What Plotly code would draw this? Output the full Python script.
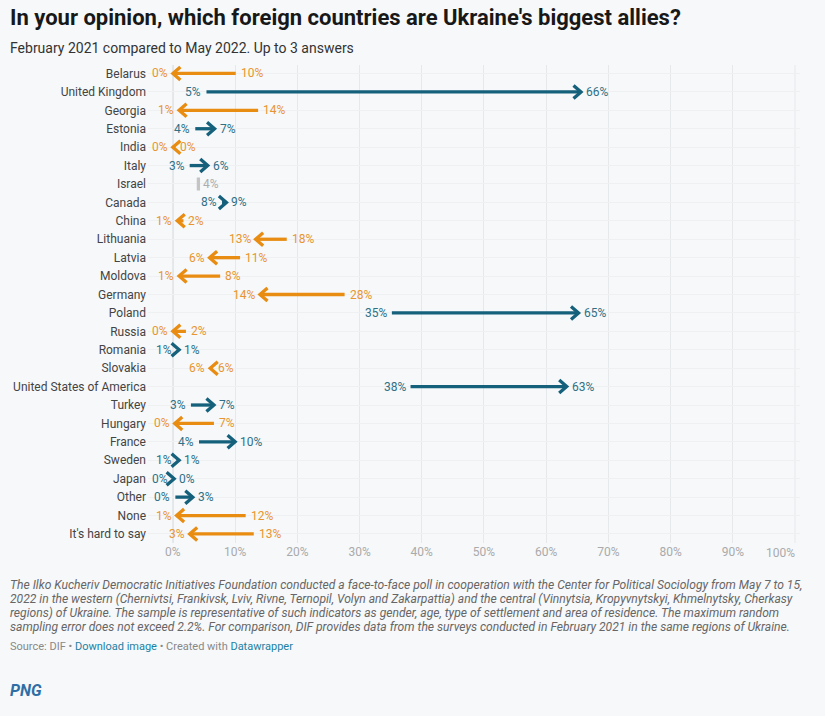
# Ukraine allies poll, arrow plot Feb 2021 -> May 2022
import plotly.graph_objects as go

countries = ["Belarus", "United Kingdom", "Georgia", "Estonia", "India", "Italy", "Israel",
             "Canada", "China", "Lithuania", "Latvia", "Moldova", "Germany", "Poland",
             "Russia", "Romania", "Slovakia", "United States of America", "Turkey",
             "Hungary", "France", "Sweden", "Japan", "Other", "None", "It's hard to say"]
feb_2021 = [10.1, 5.4, 13.7, 3.6, 0.4, 2.7, 4.1, 7.9, 1.7, 18.3, 10.8, 7.6, 27.6, 35.2,
            2.1, 0.7, 6.4, 38.2, 2.9, 6.6, 4.2, 0.6, 0.0, 0.4, 11.7, 13.0]
may_2022 = [0.0, 65.6, 1.0, 6.7, 0.0, 5.6, 4.1, 8.6, 0.7, 13.3, 5.9, 1.0, 14.0, 65.2,
            0.0, 1.0, 6.0, 63.3, 6.6, 0.3, 10.0, 1.0, 0.2, 3.2, 0.6, 2.7]
x_ticks = [0, 10, 20, 30, 40, 50, 60, 70, 80, 90]

BLUE = "#15607a"
ORANGE = "#e98c12"
BLUE_TEXT = "#2f7086"
ORANGE_TEXT = "#e89530"
GREY = "#c4c4c4"
BG = "#f6f8fa"
W, H = 825, 716
# the axis runs a little past 0 and 100 so row lines and arrow heads are not cut
X_MIN, X_MAX = -4, 100.8
PX_PER_PCT = 6.225
ZERO_PX = 172.5
LEFT = ZERO_PX + X_MIN * PX_PER_PCT
RIGHT = ZERO_PX + X_MAX * PX_PER_PCT
TOP, BOTTOM = 65, 543
TEXT_X = 8  # annotation boxes carry a little padding

# arrow head size, px converted to data units
head_x = 7.5 / PX_PER_PCT
head_y = 6.5 / 18.42


def px(x):
    return (x - LEFT) / (RIGHT - LEFT)


def py(y):
    return (BOTTOM - y) / (BOTTOM - TOP)


fig = go.Figure()
annotations = []

for i, name in enumerate(countries):
    a, b = feb_2021[i], may_2022[i]
    if a == b:
        color, text_color = GREY, "#adadad"
        xs, ys = [b, b], [i - head_y, i + head_y]
    else:
        color, text_color = (BLUE, BLUE_TEXT) if b > a else (ORANGE, ORANGE_TEXT)
        d = -head_x if b > a else head_x
        xs = [a, b, None, b + d, b, b + d]
        ys = [i, i, None, i - head_y, i, i + head_y]
    fig.add_trace(go.Scatter(x=xs, y=ys, mode="lines", line=dict(color=color, width=3.3),
                             name=name, showlegend=False))
    labels = [(b, "left", 3)] if a == b else [(a, "right" if b > a else "left", -3 if b > a else 3),
                                              (b, "left" if b > a else "right", 3 if b > a else -3)]
    for val, anchor, shift in labels:
        annotations.append(dict(x=val, y=i, text=f"{round(val)}%", showarrow=False, xanchor=anchor,
                                yanchor="middle", xshift=shift, font=dict(size=12, color=text_color)))

# last tick label sits inside the plot edge
annotations.append(dict(x=100, y=0, yref="paper", text="100%", showarrow=False, xanchor="right",
                        yanchor="middle", yshift=-10, xshift=2, font=dict(size=12, color="#aaaaaa")))

annotations.append(dict(x=px(TEXT_X), y=py(48), xref="paper", yref="paper", showarrow=False, xanchor="left",
                        yanchor="middle", text="February 2021 compared to May 2022. Up to 3 answers",
                        font=dict(size=14, color="#333333")))

notes = ["The Ilko Kucheriv Democratic Initiatives Foundation conducted a face-to-face poll in cooperation with the Center for Political Sociology from May 7 to 15,",
         "2022 in the western (Chernivtsi, Frankivsk, Lviv, Rivne, Ternopil, Volyn and Zakarpattia) and the central (Vinnytsia, Kropyvnytskyi, Khmelnytsky, Cherkasy",
         "regions) of Ukraine. The sample is representative of such indicators as gender, age, type of settlement and area of residence. The maximum random",
         "sampling error does not exceed 2.2%. For comparison, DIF provides data from the surveys conducted in February 2021 in the same regions of Ukraine."]
for n, line in enumerate(notes):
    annotations.append(dict(x=px(TEXT_X), y=py(585 + n * 14), xref="paper", yref="paper", showarrow=False,
                            xanchor="left", yanchor="middle", text=f"<i>{line}</i>",
                            font=dict(size=12.1, color="#666666")))

annotations.append(dict(x=px(TEXT_X), y=py(646), xref="paper", yref="paper", showarrow=False, xanchor="left",
                        yanchor="middle",
                        text='Source: DIF • <span style="color:#1d81a2">Download image</span> • Created with <span style="color:#1d81a2">Datawrapper</span>',
                        font=dict(size=11, color="#888888")))
annotations.append(dict(x=px(TEXT_X), y=py(690), xref="paper", yref="paper", showarrow=False, xanchor="left",
                        yanchor="middle", text="<b><i>PNG</i></b>", font=dict(size=16, color="#2f6ea5")))

fig.update_xaxes(range=[X_MIN, X_MAX], tickvals=x_ticks, ticktext=[f"{t}%" for t in x_ticks], side="bottom",
                 showgrid=True, gridcolor="#e6e9ec", gridwidth=1, zeroline=False, showline=False,
                 tickfont=dict(size=12, color="#aaaaaa"), ticks="", automargin=False)
fig.update_yaxes(range=[25.49, -0.46], tickvals=list(range(len(countries))), ticktext=countries,
                 showgrid=True, gridcolor="#eef0f2", gridwidth=1, zeroline=False, showline=False,
                 ticklabelstandoff=1, tickfont=dict(size=12, color="#444444"), ticks="", automargin=False)

fig.add_vline(x=0, line_color="#c8c8c8", line_width=1, layer="below")
fig.add_vline(x=100, line_color="#e6e9ec", line_width=1, layer="below")

fig.update_layout(title=dict(text="<b>In your opinion, which foreign countries are Ukraine's biggest allies?</b>",
                             x=10 / W, xanchor="left", y=1 - 17 / H, yanchor="middle",
                             font=dict(size=22, color="#181818")),
                  width=W, height=H, margin=dict(l=LEFT, r=W - RIGHT, t=TOP, b=H - BOTTOM, pad=0),
                  paper_bgcolor=BG, plot_bgcolor=BG, font=dict(family="Roboto"),
                  annotations=annotations, showlegend=False)

fig.write_html("out.html", config={"displayModeBar": False},
               post_script="document.body.style.margin='0';")
